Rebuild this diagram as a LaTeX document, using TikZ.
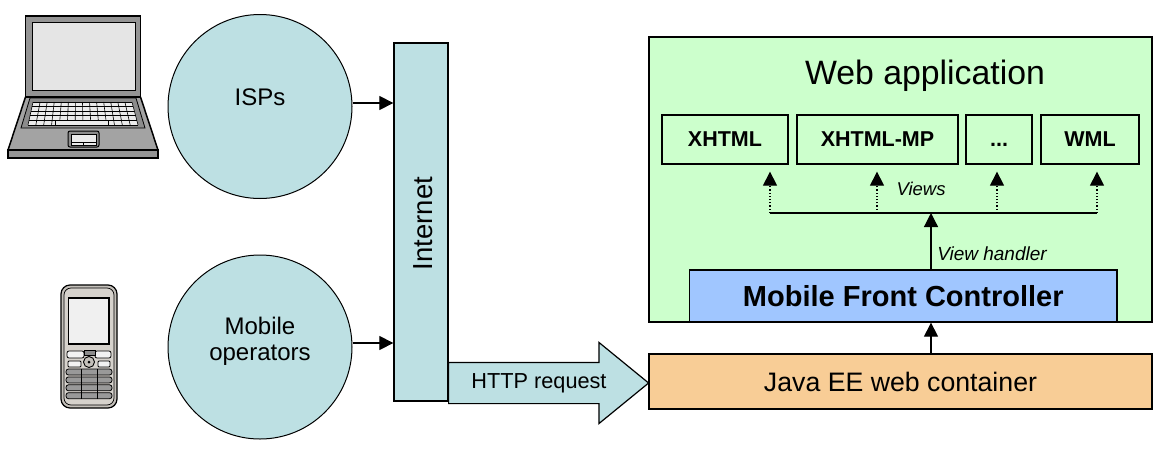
\documentclass[tikz,border=0pt]{standalone}
\usepackage{fontspec}
\setmainfont{Liberation Sans}
\usetikzlibrary{arrows.meta,shapes.arrows}
\definecolor{tealfill}{RGB}{189,224,227}
\definecolor{webfill}{RGB}{204,255,204}
\definecolor{ctrlfill}{RGB}{160,198,255}
\definecolor{javafill}{RGB}{248,205,150}
\definecolor{phonebody}{RGB}{196,192,186}
\definecolor{phoneface}{RGB}{214,210,204}
\newcommand{\fsize}[1]{\fontsize{#1}{#1}\selectfont}
\tikzset{
    netcircle/.style={circle, draw, line width=1pt, fill=tealfill, minimum size=184pt, inner sep=0pt},
    plainbox/.style={draw, line width=1.3pt, inner sep=0pt},
    viewbox/.style={plainbox, fill=webfill, minimum height=49pt, text height=15.5pt, text depth=1pt, font=\fsize{21.5}\bfseries},
    label/.style={inner sep=0pt},
    tipline/.style={line width=1.2pt, -{Triangle[length=14pt,width=14pt]}},
    dotline/.style={tipline, dotted, shorten >=7pt},
}
\begin{document}
\begin{tikzpicture}[x=1pt, y=-1pt]
    \useasboundingbox (0,0) rectangle (1167,450);

    \draw[line width=1.5pt, fill=black!42] (25.5,16) rectangle (140.5,97);
    \draw[line width=.8pt, fill=black!10] (32,22) rectangle (135,90);
    \draw[line width=1.5pt, fill=black!36, line join=round] (25.5,97) -- (140.5,97) -- (158,150) -- (8,150) -- cycle;
    \draw[line width=1.5pt, fill=black!42] (8,150) rectangle (158,158);
    \draw[line width=.8pt, fill=black!45] (30,98) -- (136,98) -- (145,128) -- (21,128) -- cycle;
    \fill[black!8] (33,102) -- (132,102) -- (138,125) -- (28,125) -- cycle;
    \foreach \r in {0,...,5} {
        \draw[line width=.8pt] (33-\r,102+\r*4.6) -- (132+\r*1.2,102+\r*4.6);
    }
    \foreach \k in {0,...,14} {
        \draw[line width=.6pt] (33+\k*7.07,102) -- (28+\k*7.86,125);
    }
    \draw[line width=.6pt, fill=black!8] (55,120.4) rectangle (108,125);
    \draw[line width=1pt, fill=black!45, rounded corners=2pt] (68,131) rectangle (99,147);
    \draw[line width=.7pt, fill=black!8] (71,134) rectangle (96,142);
    \draw[line width=.7pt, fill=black!8] (71,142) rectangle (83.5,145);
    \draw[line width=.7pt, fill=black!8] (83.5,142) rectangle (96,145);

    \draw[line width=1.2pt, fill=phonebody, rounded corners=9pt] (61,285) rectangle (117,408);
    \draw[line width=.7pt, fill=phoneface, rounded corners=7pt] (64,288) rectangle (114,405);
    \draw[line width=1.4pt, fill=black!6] (68.5,298) rectangle (109,344);
    \draw[line width=.8pt, fill=black!5, rounded corners=2pt] (67,351) rectangle (84,358);
    \draw[line width=.8pt, fill=black!5, rounded corners=2pt] (95,351) rectangle (111,358);
    \draw[line width=.8pt, fill=black!45] (84,350) rectangle (95,355);
    \draw[line width=.8pt, fill=black!5, rounded corners=1pt] (68,361) rectangle (81,367);
    \draw[line width=.8pt, fill=black!5, rounded corners=1pt] (98,361) rectangle (110,367);
    \draw[line width=.9pt, fill=phonebody] (89,362) circle (5.5);
    \fill (89,362) circle (1.5);
    \foreach \r in {0,...,3} {
        \draw[line width=.8pt, fill=black!40, rounded corners=2.5pt] (66,369+\r*7.9) rectangle (112,375+\r*7.9);
    }
    \foreach \k in {81,97} {
        \draw[line width=.8pt] (\k,369) -- (\k,398.7);
    }

    \node[netcircle] (isps) at (260,106.5) {};
    \node[label, font=\fsize{24}] (ispstext) at (260,97) {ISPs};
    \node[netcircle] (mobile) at (260,347) {};
    \node[label, font=\fsize{24}] (mobiletext) at (260,326) {Mobile};
    \node[label, font=\fsize{24}] (operatorstext) at (260,355) {operators};

    \node[single arrow, draw, line width=1.2pt, fill=tealfill, anchor=tail, minimum height=200pt, minimum width=80pt,
        single arrow head extend=20pt, single arrow tip angle=78.5, single arrow head indent=0pt, inner xsep=0pt, inner ysep=20pt] (http) at (448,383) {};
    \node[label, font=\fsize{21.7}] (httptext) at (539,383) {HTTP request};
    \node[plainbox, fill=tealfill, minimum width=54pt, minimum height=358pt] (internet) at (421,222) {};
    \node[label, font=\fsize{27.5}, rotate=90] (internettext) at (423.5,223.5) {Internet};

    \node[plainbox, fill=webfill, minimum width=503pt, minimum height=285pt] (webapp) at (900.5,179.5) {};
    \node[label, font=\fsize{33.8}] (webtitle) at (925,76) {Web application};
    \node[viewbox, minimum width=126pt] (xhtml) at (725,139.5) {XHTML};
    \node[viewbox, minimum width=161pt] (xhtmlmp) at (877.5,139.5) {XHTML-MP};
    \node[viewbox, minimum width=66pt] (dots) at (999,139.5) {...};
    \node[viewbox, minimum width=98pt] (wml) at (1090,139.5) {WML};
    \node[plainbox, fill=ctrlfill, minimum width=427.5pt, minimum height=52pt, font=\fsize{29}\bfseries] (controller) at (903.25,296) {Mobile Front Controller};
    \node[plainbox, fill=javafill, minimum width=503pt, minimum height=55pt, font=\fsize{26.7}] (java) at (900.5,381.5) {Java EE web container};
    \node[label, font=\fsize{18.5}\itshape] (viewstext) at (921,189) {Views};
    \node[label, font=\fsize{19}\itshape] (handlertext) at (992,254) {View handler};

    \coordinate (busxhtml) at (770,213);
    \coordinate (busmp) at (877,213);
    \coordinate (busdots) at (997,213);
    \coordinate (buswml) at (1097,213);
    \coordinate (bushandler) at (931,213);

    \draw[tipline] ([yshift=3.5pt]isps.east) -- ([yshift=3.5pt]isps.east -| internet.west);
    \draw[tipline] ([yshift=4pt]mobile.east) -- ([yshift=4pt]mobile.east -| internet.west);
    \draw[dotline] (busxhtml) -- (busxhtml |- xhtml.south);
    \draw[dotline] (busmp) -- (busmp |- xhtmlmp.south);
    \draw[dotline] (busdots) -- (busdots |- dots.south);
    \draw[dotline] (buswml) -- (buswml |- wml.south);
    \draw[line width=1.2pt] (busxhtml) -- (buswml);
    \draw[tipline] (bushandler |- controller.north) -- (bushandler);
    \draw[tipline] (bushandler |- java.north) -- (bushandler |- controller.south);
\end{tikzpicture}
\end{document}
